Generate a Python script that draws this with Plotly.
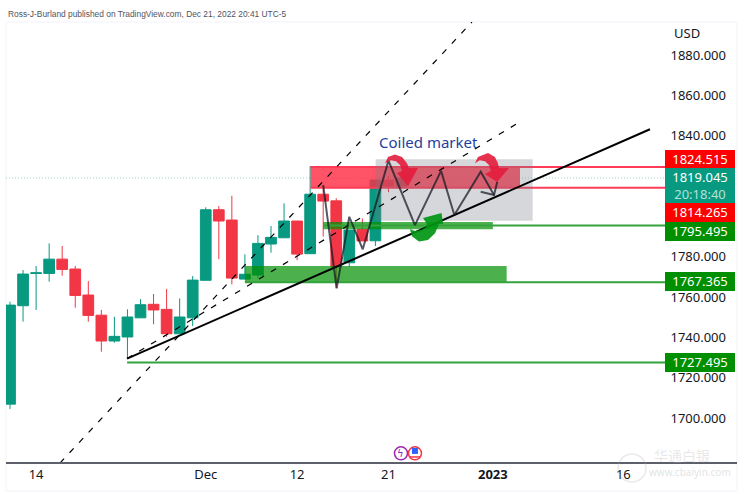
import plotly.graph_objects as go

# Candles (index = trading day; tick labels below name the dates)
candle_index = list(range(31))
opens = [1706.9, 1755.7, 1771.7, 1771.7, 1778.8, 1773.9, 1761.0, 1751.0, 1738.2, 1740.2, 1749.7, 1756.4, 1753.9, 1741.8, 1749.7, 1768.3,
         1803.3, 1798.2, 1768.9, 1770.9, 1786.3, 1789.4, 1797.7, 1781.5, 1811.0, 1807.7, 1777.0, 1793.6, 1787.9, 1818.0, 1815.0]
highs = [1757.7, 1773.4, 1775.4, 1786.6, 1785.3, 1775.4, 1767.9, 1753.6, 1750.2, 1753.9, 1759.0, 1761.5, 1764.0, 1759.3, 1770.4, 1804.5,
         1805.1, 1810.2, 1781.2, 1790.7, 1795.2, 1806.5, 1797.7, 1825.0, 1815.5, 1809.0, 1793.2, 1799.0, 1818.0, 1820.0, 1820.0]
lows = [1704.5, 1747.8, 1753.6, 1767.6, 1770.6, 1754.7, 1747.8, 1732.9, 1737.4, 1729.7, 1749.7, 1746.5, 1740.3, 1741.8, 1745.6, 1768.3,
        1778.8, 1766.3, 1768.9, 1769.4, 1782.0, 1789.4, 1778.3, 1781.5, 1790.0, 1764.5, 1775.0, 1787.8, 1785.3, 1812.0, 1814.0]
closes = [1756.0, 1771.4, 1772.0, 1778.8, 1773.7, 1760.8, 1750.9, 1738.2, 1740.5, 1750.1, 1756.2, 1753.6, 1741.8, 1750.1, 1768.4, 1803.3,
          1797.7, 1769.4, 1771.3, 1786.6, 1789.6, 1797.7, 1781.3, 1811.0, 1807.6, 1775.0, 1793.2, 1787.8, 1818.0, 1815.0, 1819.045]

tick_index = [2, 15, 22, 29, 37, 47]
tick_labels = ["14", "Dec", "12", "21", "<b>2023</b>", "16"]
price_ticks = [1680, 1700, 1720, 1740, 1760, 1780, 1840, 1860, 1880]

# Price levels
last_price = 1819.045
countdown = "20:18:40"
red_levels = [1824.515, 1814.265]
green_levels = [1795.495, 1767.365, 1727.495]
green_level_starts = [24.0, 18.0, 8.97]

# Trend lines
solid_x, solid_y = [8.97, 49.04], [1729.5, 1843.2]
dash1_x, dash1_y = [3.83, 35.4], [1677.7, 1896.4]
dash2_x, dash2_y = [8.97, 38.93], [1729.5, 1846.3]

# Zones
red_zone_x, red_zone_y = [23.04, 39.08], [1814.265, 1824.515]
low_zone_x, low_zone_y = [18.0, 38.06], [1767.365, 1775.4]
high_zone_x, high_zone_y = [24.0, 37.0], [1793.6, 1797.2]
gray_zone_x, gray_zone_y = [28.02, 40.05], [1797.8, 1828.3]

# Hand-drawn zigzag and arrows
zig_x = [24.0, 25.03, 26.0, 27.03, 29.0, 31.03, 33.03, 34.05, 36.07, 37.09]
zig_y = [1815.5, 1764.3, 1799.8, 1783.7, 1827.6, 1795.7, 1822.6, 1800.7, 1822.1, 1810.6]
head_x = [36.07, 37.09, 37.34]
head_y = [1812.2, 1810.6, 1817.2]
red_arrow1_x = [28.74, 28.97, 29.5, 30.04, 30.42, 30.57, 31.26, 30.5, 29.66, 30.04, 29.89, 29.58, 29.2, 28.74]
red_arrow1_y = [1826.4, 1829.4, 1830.7, 1829.4, 1826.4, 1824.0, 1824.0, 1815.0, 1821.5, 1822.5, 1825.5, 1827.4, 1827.9, 1826.4]
red_arrow2_x = [35.63, 35.86, 36.63, 37.16, 37.39, 37.47, 38.24, 37.32, 36.4, 36.85, 36.7, 36.4, 36.0, 35.63]
red_arrow2_y = [1826.4, 1829.4, 1831.4, 1829.4, 1826.4, 1824.0, 1824.0, 1817.0, 1821.0, 1822.5, 1825.5, 1827.4, 1827.9, 1826.4]
green_arrow_x = [30.65, 30.8, 31.34, 32.03, 32.57, 32.87, 33.18, 33.07, 31.65, 31.95, 31.88, 31.49, 31.03, 30.65]
green_arrow_y = [1793.7, 1790.2, 1787.5, 1788.3, 1791.7, 1796.2, 1796.2, 1801.7, 1799.2, 1796.2, 1794.7, 1793.2, 1792.7, 1793.7]

# Event icons
event_x = [29.96, 31.03]
event_y = 1682.5

X_MIN, X_MAX = -0.307, 55.71
Y_MIN, Y_MAX = 1678.2, 1896.4
AXIS_EDGE = 50.2
FONT = "Noto Sans"
TEAL, RED = "#089981", "#F23645"
GREEN_LINE = "#35A33D"
GREEN_TAG = "#008F00"

fig = go.Figure()
fig.add_trace(go.Candlestick(
    x=candle_index, open=opens, high=highs, low=lows, close=closes, whiskerwidth=0,
    increasing=dict(line=dict(color=TEAL, width=1), fillcolor=TEAL),
    decreasing=dict(line=dict(color=RED, width=1), fillcolor=RED),
    hoverinfo="skip", showlegend=False))


def line(x, y, color, width=2, dash=None):
    fig.add_trace(go.Scatter(x=x, y=y, mode="lines", hoverinfo="skip", showlegend=False,
                             line=dict(color=color, width=width, dash=dash)))


def poly(x, y, color):
    fig.add_trace(go.Scatter(x=x, y=y, mode="lines", fill="toself", fillcolor=color, hoverinfo="skip",
                             showlegend=False, line=dict(width=0)))


def zone(xr, yr, color):
    poly([xr[0], xr[1], xr[1], xr[0], xr[0]], [yr[0], yr[0], yr[1], yr[1], yr[0]], color)


line([X_MIN, AXIS_EDGE], [last_price, last_price], "rgba(8,153,129,0.4)", 1, "1px,2px")
zone(red_zone_x, red_zone_y, "rgba(255,45,70,0.82)")
for level in red_levels:
    line([red_zone_x[0], AXIS_EDGE], [level, level], "#FF3B55", 2)
zone(low_zone_x, low_zone_y, "rgba(0,143,0,0.7)")
zone(high_zone_x, high_zone_y, "rgba(0,143,0,0.7)")
for level, start in zip(green_levels, green_level_starts):
    line([start, AXIS_EDGE], [level, level], GREEN_LINE, 2)
zone(gray_zone_x, gray_zone_y, "rgba(120,123,134,0.3)")
line(dash1_x, dash1_y, "#000000", 1.2, "6px,8px")
line(dash2_x, dash2_y, "#000000", 1.2, "6px,8px")
line(solid_x, solid_y, "#000000", 2)
line(zig_x, zig_y, "rgba(19,23,34,0.72)", 2)
line(head_x, head_y, "rgba(19,23,34,0.72)", 2)
poly(red_arrow1_x, red_arrow1_y, "rgba(228,28,60,0.9)")
poly(red_arrow2_x, red_arrow2_y, "rgba(228,28,60,0.9)")
poly(green_arrow_x, green_arrow_y, "rgba(0,150,20,0.92)")

# event icons
fig.add_trace(go.Scatter(x=event_x, y=[event_y, event_y], mode="markers", hoverinfo="skip", showlegend=False,
                         marker=dict(size=13, color="white", line=dict(width=1.5, color=["#9C27B0", "#F23645"]))))
fig.add_trace(go.Scatter(x=[event_x[1]], y=[event_y + 1.2], mode="markers", hoverinfo="skip", showlegend=False,
                         marker=dict(size=6, symbol="square", color="#2962FF")))
fig.add_trace(go.Scatter(x=[event_x[1]], y=[event_y - 1.8], mode="markers", hoverinfo="skip", showlegend=False,
                         marker=dict(size=8, symbol="line-ew", line=dict(width=1.5, color="#F23645"))))

annotations = []
tag_x = (700 - 6) / 731


def tag(price, text, bg, h, yshift):
    annotations.append(dict(xref="paper", yref="y", x=tag_x, y=price, text=text, showarrow=False,
                            xanchor="center", yanchor="middle", width=70, height=h, align="center", valign="middle",
                            bgcolor=bg, borderpad=0, borderwidth=0, yshift=yshift,
                            font=dict(family=FONT, size=13, color="white")))


tag(green_levels[2], f"{green_levels[2]:.3f}", GREEN_TAG, 18.5, 0)
tag(green_levels[1], f"{green_levels[1]:.3f}", GREEN_TAG, 18.5, 0.6)
tag(green_levels[0], f"{green_levels[0]:.3f}", GREEN_TAG, 18.7, -5.6)
tag(red_levels[1], f"{red_levels[1]:.3f}", "#FF0000", 18.7, -24.7)
tag(last_price, f"{last_price:.3f}<br><span style='color:#B5E0D8'>{countdown}</span>", TEAL, 35, -7.6)
tag(red_levels[0], f"{red_levels[0]:.3f}", "#FF0000", 18, 8)

annotations += [
    dict(xref="paper", yref="paper", x=0, y=(462 - 14) / 440, yanchor="middle", xanchor="left", showarrow=False,
         text="Ross-J-Burland published on TradingView.com, Dec 21, 2022 20:41 UTC-5",
         font=dict(family="Liberation Sans", size=8.4, color="#50535E")),
    dict(xref="paper", yref="paper", x=(672 - 6) / 731, y=(462 - 33) / 440, xanchor="left", yanchor="middle",
         showarrow=False, text="USD", font=dict(family=FONT, size=13, color="#131722")),
    dict(xref="x", yref="y", x=32.05, y=1837, xanchor="center", yanchor="middle", showarrow=False,
         text="Coiled market", font=dict(family=FONT, size=15, color="#1E3FA0")),
    dict(xref="x", yref="y", x=event_x[0], y=event_y, xanchor="center", yanchor="middle", showarrow=False,
         text="ϟ", font=dict(family="DejaVu Sans", size=10, color="#9C27B0")),
    dict(xref="paper", yref="paper", x=(682 - 6) / 731, y=(462 - 455) / 440, xanchor="center", yanchor="middle",
         showarrow=False, text="华通白银", font=dict(family="Noto Sans CJK SC", size=14, color="rgba(170,170,170,0.28)")),
    dict(xref="paper", yref="paper", x=(690 - 6) / 731, y=(462 - 472) / 440, xanchor="center", yanchor="middle",
         showarrow=False, text="www.cbaiyin.com", font=dict(family=FONT, size=10, color="rgba(170,170,170,0.35)")),
]

shapes = [
    dict(type="rect", xref="paper", yref="paper", x0=0, x1=1, y0=(462 - 491) / 440, y1=1,
         line=dict(color="#F0F3FA", width=1), layer="below"),
    dict(type="circle", xref="paper", yref="paper", x0=(618 - 6) / 731, x1=(646 - 6) / 731,
         y0=(462 - 482) / 440, y1=(462 - 454) / 440, line=dict(color="rgba(170,170,170,0.25)", width=1.5)),
]

fig.update_layout(
    width=746, height=494, paper_bgcolor="white", plot_bgcolor="white",
    margin=dict(l=6, r=9, t=22, b=32, autoexpand=False), showlegend=False,
    annotations=annotations, shapes=shapes, dragmode=False,
    boxgap=0.18, boxgroupgap=0,
    xaxis=dict(range=[X_MIN, X_MAX], rangeslider=dict(visible=False), showgrid=False, zeroline=False,
               tickmode="array", tickvals=tick_index, ticktext=tick_labels, ticks="",
               showline=True, linecolor="#5D606B", linewidth=1.5,
               tickfont=dict(family=FONT, size=13, color="#131722")),
    yaxis=dict(range=[Y_MIN, Y_MAX], side="right", ticklabelposition="inside", showgrid=False, zeroline=False,
               tickmode="array", tickvals=price_ticks, ticktext=[f"{v:.3f}" for v in price_ticks], ticks="",
               showline=False, ticklabelstandoff=8,
               tickfont=dict(family=FONT, size=13, color="#131722")),
)

fig.write_html("out.html", config=dict(displayModeBar=False),
               post_script="document.body.style.margin='0';document.documentElement.style.overflow='hidden';")
